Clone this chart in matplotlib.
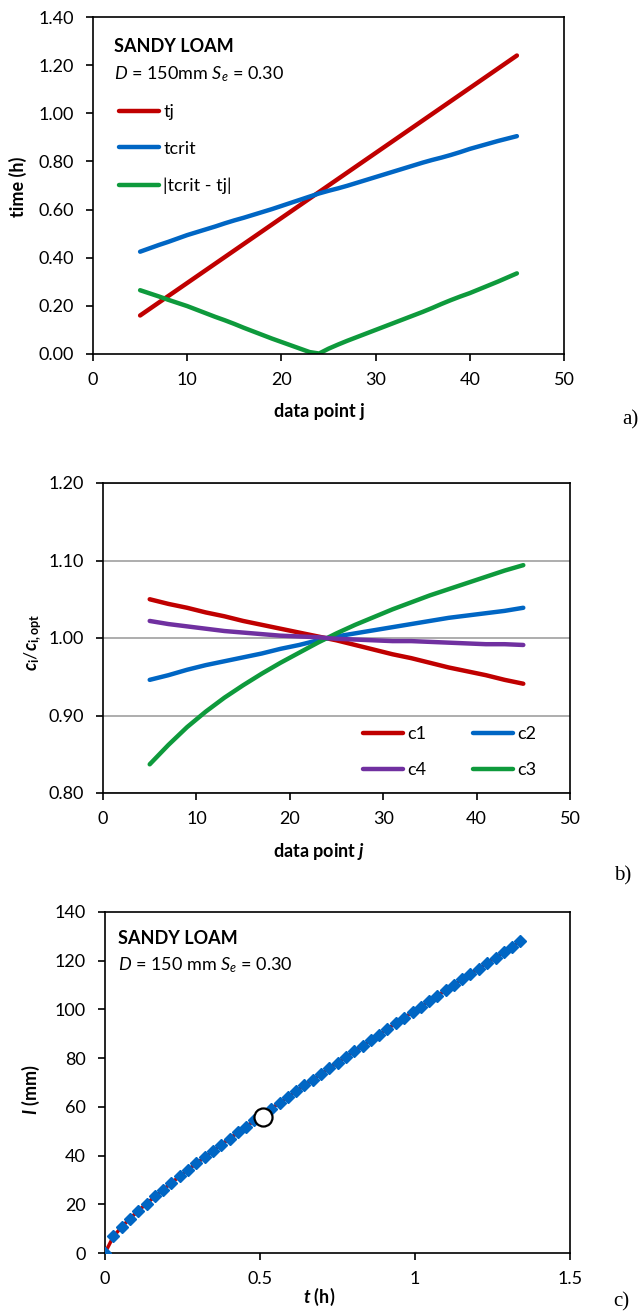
import matplotlib
matplotlib.use('Agg')
import matplotlib.pyplot as plt
from matplotlib.ticker import FormatStrFormatter, MultipleLocator, FuncFormatter

plt.rcParams['font.family'] = ['Lato', 'DejaVu Sans']
plt.rcParams['mathtext.fontset'] = 'custom'
plt.rcParams['mathtext.rm'] = 'Lato'
plt.rcParams['mathtext.it'] = 'Lato:italic'
plt.rcParams['mathtext.bf'] = 'Lato:bold'
plt.rcParams['mathtext.bfit'] = 'Lato:italic:bold'

# ---------------- data ----------------
# panel a
j_a = [5, 6, 7, 8, 9, 10, 11, 12, 13, 14, 15, 16, 17, 18, 19, 20, 21, 22, 23, 24,
       25, 26, 27, 28, 29, 30, 31, 32, 33, 34, 35, 36, 37, 38, 39, 40, 41, 42, 43, 44, 45]
tj = [0.160, 0.187, 0.214, 0.241, 0.268, 0.295, 0.322, 0.349, 0.376, 0.403, 0.430,
      0.457, 0.484, 0.511, 0.538, 0.565, 0.592, 0.619, 0.646, 0.673, 0.700, 0.727,
      0.754, 0.781, 0.808, 0.835, 0.862, 0.889, 0.916, 0.943, 0.970, 0.997, 1.024,
      1.051, 1.078, 1.105, 1.132, 1.159, 1.186, 1.213, 1.240]
tcrit = [0.425, 0.439, 0.453, 0.466, 0.480, 0.494, 0.506, 0.518, 0.530, 0.543, 0.555,
         0.566, 0.578, 0.590, 0.602, 0.615, 0.628, 0.641, 0.654, 0.667, 0.678, 0.688,
         0.699, 0.711, 0.723, 0.735, 0.747, 0.759, 0.771, 0.783, 0.795, 0.806, 0.816,
         0.827, 0.839, 0.852, 0.863, 0.874, 0.885, 0.895, 0.905]
tdiff = [0.265, 0.252, 0.239, 0.225, 0.212, 0.199, 0.184, 0.169, 0.154, 0.140, 0.125,
         0.109, 0.094, 0.079, 0.064, 0.050, 0.036, 0.022, 0.008, 0.002, 0.022, 0.039,
         0.055, 0.070, 0.085, 0.100, 0.115, 0.130, 0.145, 0.160, 0.175, 0.191, 0.208,
         0.224, 0.239, 0.253, 0.269, 0.285, 0.301, 0.318, 0.335]

# panel b
j_b = [5, 7, 9, 11, 13, 15, 17, 19, 21, 23, 25, 27, 29, 31, 33, 35, 37, 39, 41, 43, 45]
c1 = [1.050, 1.044, 1.039, 1.033, 1.028, 1.022, 1.017, 1.012, 1.007, 1.002, 0.997,
      0.991, 0.985, 0.979, 0.974, 0.968, 0.962, 0.957, 0.952, 0.946, 0.941]
c2 = [0.946, 0.952, 0.959, 0.965, 0.970, 0.975, 0.980, 0.986, 0.991, 0.997, 1.002,
      1.006, 1.010, 1.014, 1.018, 1.022, 1.026, 1.029, 1.032, 1.035, 1.039]
c3 = [0.837, 0.862, 0.885, 0.905, 0.923, 0.939, 0.954, 0.968, 0.981, 0.994, 1.006,
      1.017, 1.027, 1.037, 1.046, 1.055, 1.063, 1.071, 1.079, 1.087, 1.094]
c4 = [1.022, 1.018, 1.015, 1.012, 1.009, 1.007, 1.005, 1.003, 1.002, 1.001, 0.999,
      0.998, 0.997, 0.996, 0.996, 0.995, 0.994, 0.993, 0.992, 0.992, 0.991]

# panel c
t_c = [0.000, 0.027, 0.054, 0.080, 0.107, 0.134, 0.161, 0.188, 0.214, 0.241, 0.268,
       0.295, 0.322, 0.348, 0.375, 0.402, 0.429, 0.456, 0.482, 0.509, 0.536, 0.563,
       0.590, 0.616, 0.643, 0.670, 0.697, 0.724, 0.750, 0.777, 0.804, 0.831, 0.858,
       0.884, 0.911, 0.938, 0.965, 0.992, 1.018, 1.045, 1.072, 1.099, 1.126, 1.152,
       1.179, 1.206, 1.233, 1.260, 1.286, 1.313, 1.340]
I_c = [0.0, 6.8, 10.7, 14.1, 17.3, 20.3, 23.2, 26.0, 28.8, 31.5, 34.2, 36.8, 39.4,
       41.9, 44.5, 47.0, 49.5, 51.9, 54.4, 56.8, 59.2, 61.7, 64.0, 66.4, 68.8, 71.2,
       73.5, 75.9, 78.2, 80.5, 82.8, 85.1, 87.4, 89.7, 92.0, 94.3, 96.6, 98.9, 101.1,
       103.4, 105.6, 107.9, 110.1, 112.4, 114.6, 116.8, 119.1, 121.3, 123.5, 125.7, 128.0]
t_opt = [0.51]
I_opt = [56.0]

RED = '#C00000'
BLUE = '#0066C4'
GREEN = '#0E9A3C'
PURPLE = '#7030A0'

W, H = 639, 1314
fig = plt.figure(figsize=(W / 100, H / 100), dpi=100)


def rect(l, t, r, b):
    return [l / W, 1 - b / H, (r - l) / W, (b - t) / H]


def fx(px):
    return px / W


def fy(py):
    return 1 - py / H


FS = 13


def style(ax):
    for s in ax.spines.values():
        s.set_linewidth(1.2)
        s.set_color('black')
    ax.tick_params(axis='both', which='major', direction='out', length=5, width=1.2,
                   labelsize=FS, pad=9, colors='black')
    ax.tick_params(axis='x', pad=8)


def place_xlabel(ax, py):
    ax.xaxis.set_label_coords(0.5, fy(py), transform=fig.transFigure)
    ax.xaxis.label.set_va('center')


def place_ylabel(ax, px, py):
    ax.yaxis.set_label_coords(fx(px), fy(py), transform=fig.transFigure)
    ax.yaxis.label.set_va('center')
    ax.yaxis.label.set_ha('center')


# ---------------- panel a ----------------
axa = fig.add_axes(rect(93, 17, 564, 354))
axa.plot(j_a, tj, color=RED, lw=3.2, solid_capstyle='round', label='tj')
axa.plot(j_a, tcrit, color=BLUE, lw=3.2, solid_capstyle='round', label='tcrit')
axa.plot(j_a, tdiff, color=GREEN, lw=3.2, solid_capstyle='round', label='|tcrit - tj|')
axa.set_xlim(0, 50)
axa.set_ylim(0, 1.4)
axa.xaxis.set_major_locator(MultipleLocator(10))
axa.yaxis.set_major_locator(MultipleLocator(0.2))
axa.yaxis.set_major_formatter(FormatStrFormatter('%.2f'))
style(axa)
axa.set_xlabel('data point j', fontsize=FS, fontweight='bold')
axa.set_ylabel('time (h)', fontsize=FS, fontweight='bold')
place_xlabel(axa, 412)
place_ylabel(axa, 18, 187)
fig.text(fx(114), fy(47), 'SANDY LOAM', fontsize=FS, fontweight='bold', va='center', ha='left')
fig.text(fx(114), fy(74), r'$D$ = 150mm $S_e$ = 0.30', fontsize=FS, va='center', ha='left')
axa.legend(loc='upper left', bbox_to_anchor=(fx(119), fy(104)), bbox_transform=fig.transFigure,
           frameon=False, fontsize=FS, handlelength=2.2, handletextpad=0.25,
           labelspacing=1.15, borderpad=0, borderaxespad=0)
fig.text(fx(630), fy(420), 'a)', fontsize=15, family='Liberation Serif', va='center', ha='center')

# ---------------- panel b ----------------
axb = fig.add_axes(rect(103, 483, 570, 793))
l1, = axb.plot(j_b, c1, color=RED, lw=3.2, solid_capstyle='round', label='c1')
l2, = axb.plot(j_b, c2, color=BLUE, lw=3.2, solid_capstyle='round', label='c2')
l3, = axb.plot(j_b, c3, color=GREEN, lw=3.2, solid_capstyle='round', label='c3')
l4, = axb.plot(j_b, c4, color=PURPLE, lw=3.2, solid_capstyle='round', label='c4')
axb.set_xlim(0, 50)
axb.set_ylim(0.8, 1.2)
axb.xaxis.set_major_locator(MultipleLocator(10))
axb.yaxis.set_major_locator(MultipleLocator(0.1))
axb.yaxis.set_major_formatter(FormatStrFormatter('%.2f'))
axb.yaxis.grid(True, color='#A0A0A0', lw=1.2)
axb.set_axisbelow(True)
style(axb)
axb.set_xlabel(r'data point $\mathbfit{j}$', fontsize=FS, fontweight='bold')
axb.set_ylabel(r'$\mathbfit{c}_{\mathbf{i}}/\mathbfit{c}_{\mathbf{i,opt}}$', fontsize=FS)
place_xlabel(axb, 852)
place_ylabel(axb, 33, 642)
axb.legend(handles=[l1, l4, l2, l3], ncol=2, loc='upper left',
           bbox_to_anchor=(fx(363), fy(726)), bbox_transform=fig.transFigure,
           frameon=False, fontsize=FS, handlelength=2.2, handletextpad=0.25,
           labelspacing=1.1, columnspacing=2.6, borderpad=0, borderaxespad=0)
fig.text(fx(623), fy(876), 'b)', fontsize=15, family='Liberation Serif', va='center', ha='center')

# ---------------- panel c ----------------
axc = fig.add_axes(rect(105, 912, 570, 1253))
axc.plot(t_c, I_c, color=RED, lw=2.5, zorder=2)
axc.plot(t_c, I_c, ls='none', marker='D', ms=6.3, color=BLUE, mec=BLUE, zorder=3)
axc.plot(t_opt, I_opt, ls='none', marker='o', ms=13, mfc='white', mec='black', mew=1.6, zorder=4)
axc.set_xlim(0, 1.5)
axc.set_ylim(0, 140)
axc.xaxis.set_major_locator(MultipleLocator(0.5))
axc.yaxis.set_major_locator(MultipleLocator(20))
axc.xaxis.set_major_formatter(FuncFormatter(lambda v, p: f'{v:g}'))
style(axc)
for sp in axc.spines.values():
    sp.set_zorder(1)
axc.set_xlabel(r'$\mathbfit{t}$ (h)', fontsize=FS, fontweight='bold')
axc.set_ylabel(r'$\mathbfit{I}$ (mm)', fontsize=FS, fontweight='bold')
place_xlabel(axc, 1297)
place_ylabel(axc, 31, 1090)
fig.text(fx(118), fy(938), 'SANDY LOAM', fontsize=FS, fontweight='bold', va='center', ha='left')
fig.text(fx(118), fy(965), r'$D$ = 150 mm $S_e$ = 0.30', fontsize=FS, va='center', ha='left')
fig.text(fx(621), fy(1302), 'c)', fontsize=15, family='Liberation Serif', va='center', ha='center')

fig.savefig('out.png', dpi=100)
